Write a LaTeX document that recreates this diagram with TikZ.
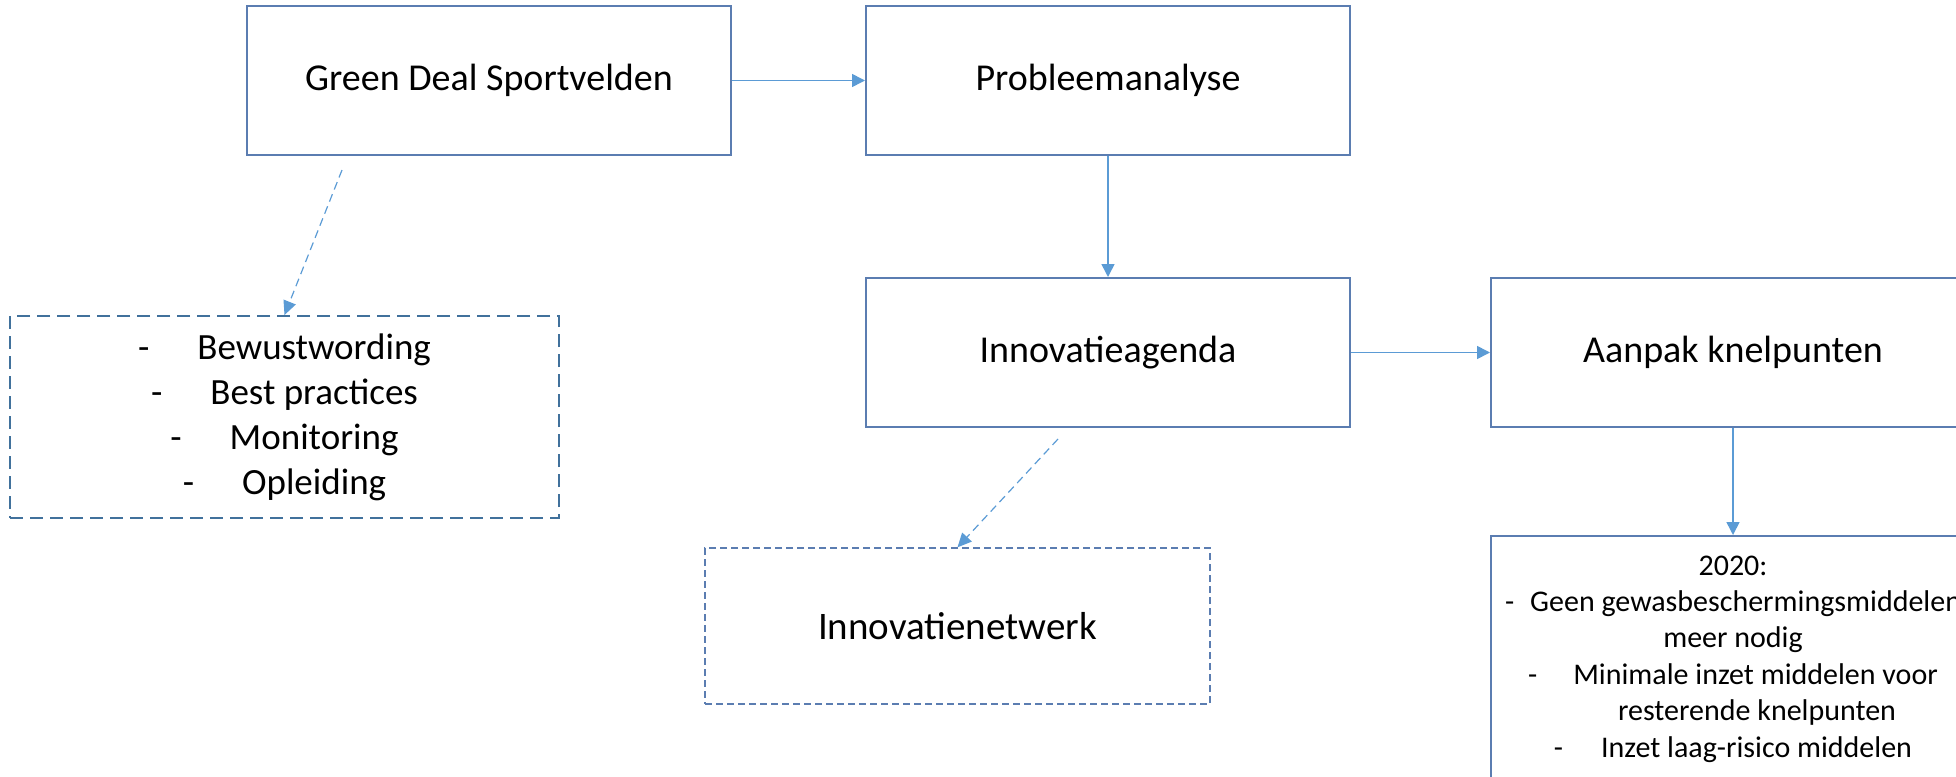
\documentclass[tikz,border=0pt]{standalone}
\usepackage{fontspec}
\setmainfont{Carlito}
\usepackage{xcolor}
\usetikzlibrary{arrows.meta}
\definecolor{boxblue}{HTML}{5B7DB1}
\definecolor{arrowblue}{HTML}{5B9BD5}
\definecolor{listblue}{HTML}{41719C}

\begin{document}
\begin{tikzpicture}[
  x=1pt, y=1pt,
  stage/.style={draw=boxblue, line width=1pt, minimum width=242pt, minimum height=74.5pt,
    inner sep=0pt, align=center, font=\fontsize{19}{23}\selectfont},
  flow/.style={arrowblue, line width=0.8pt, -{Triangle[length=6.5pt,width=6.5pt]}},
  hint/.style={arrowblue, line width=0.6pt, dash pattern=on 4pt off 2.5pt,
    -{Triangle[length=7pt,width=6.5pt]}}
]
\useasboundingbox (0,0) rectangle (978,-388.5);
\clip (0,0) rectangle (978,-388.5);
\node[stage] (deal) at (244.5,-40.25) {Green Deal Sportvelden};
\node[stage] (analyse) at (554,-40.25) {Probleemanalyse};
\node[stage] (agenda) at (554,-176.25) {Innovatieagenda};
\node[stage] (aanpak) at (866.5,-176.25) {Aanpak knelpunten};
\node[stage, minimum height=123pt, font=\fontsize{15}{18.2}\selectfont] (doel) at (866.5,-329.5)
  {2020:\\-\hspace{8pt}Geen gewasbeschermingsmiddelen\\meer nodig\\
   -\hspace{18pt}Minimale inzet middelen voor\\\hspace*{24pt}resterende knelpunten\\
   -\hspace{19pt}Inzet laag-risico middelen};
\node[stage, draw=listblue, dash pattern=on 6.5pt off 3.5pt, minimum width=274.5pt,
  minimum height=101pt, font=\fontsize{18.5}{22.5}\selectfont] (aims) at (142.25,-208.5)
  {-\hspace{24pt}Bewustwording\\-\hspace{24pt}Best practices\\
   -\hspace{24pt}Monitoring\\-\hspace{24pt}Opleiding};
\node[stage, line width=0.7pt, dash pattern=on 3.5pt off 2pt, minimum width=252.5pt,
  minimum height=78pt, font=\fontsize{19.5}{23}\selectfont] (netwerk) at (478.75,-313) {Innovatienetwerk};
\coordinate (dealtail) at (171,-85);
\coordinate (agendatail) at (529,-219.5);
\draw[flow] (deal) -- (analyse);
\draw[flow] (analyse) -- (agenda);
\draw[flow] (agenda) -- (aanpak);
\draw[flow] (aanpak) -- (doel);
\draw[hint] (dealtail) -- (aims.north);
\draw[hint] (agendatail) -- (netwerk.north);
\end{tikzpicture}
\end{document}
